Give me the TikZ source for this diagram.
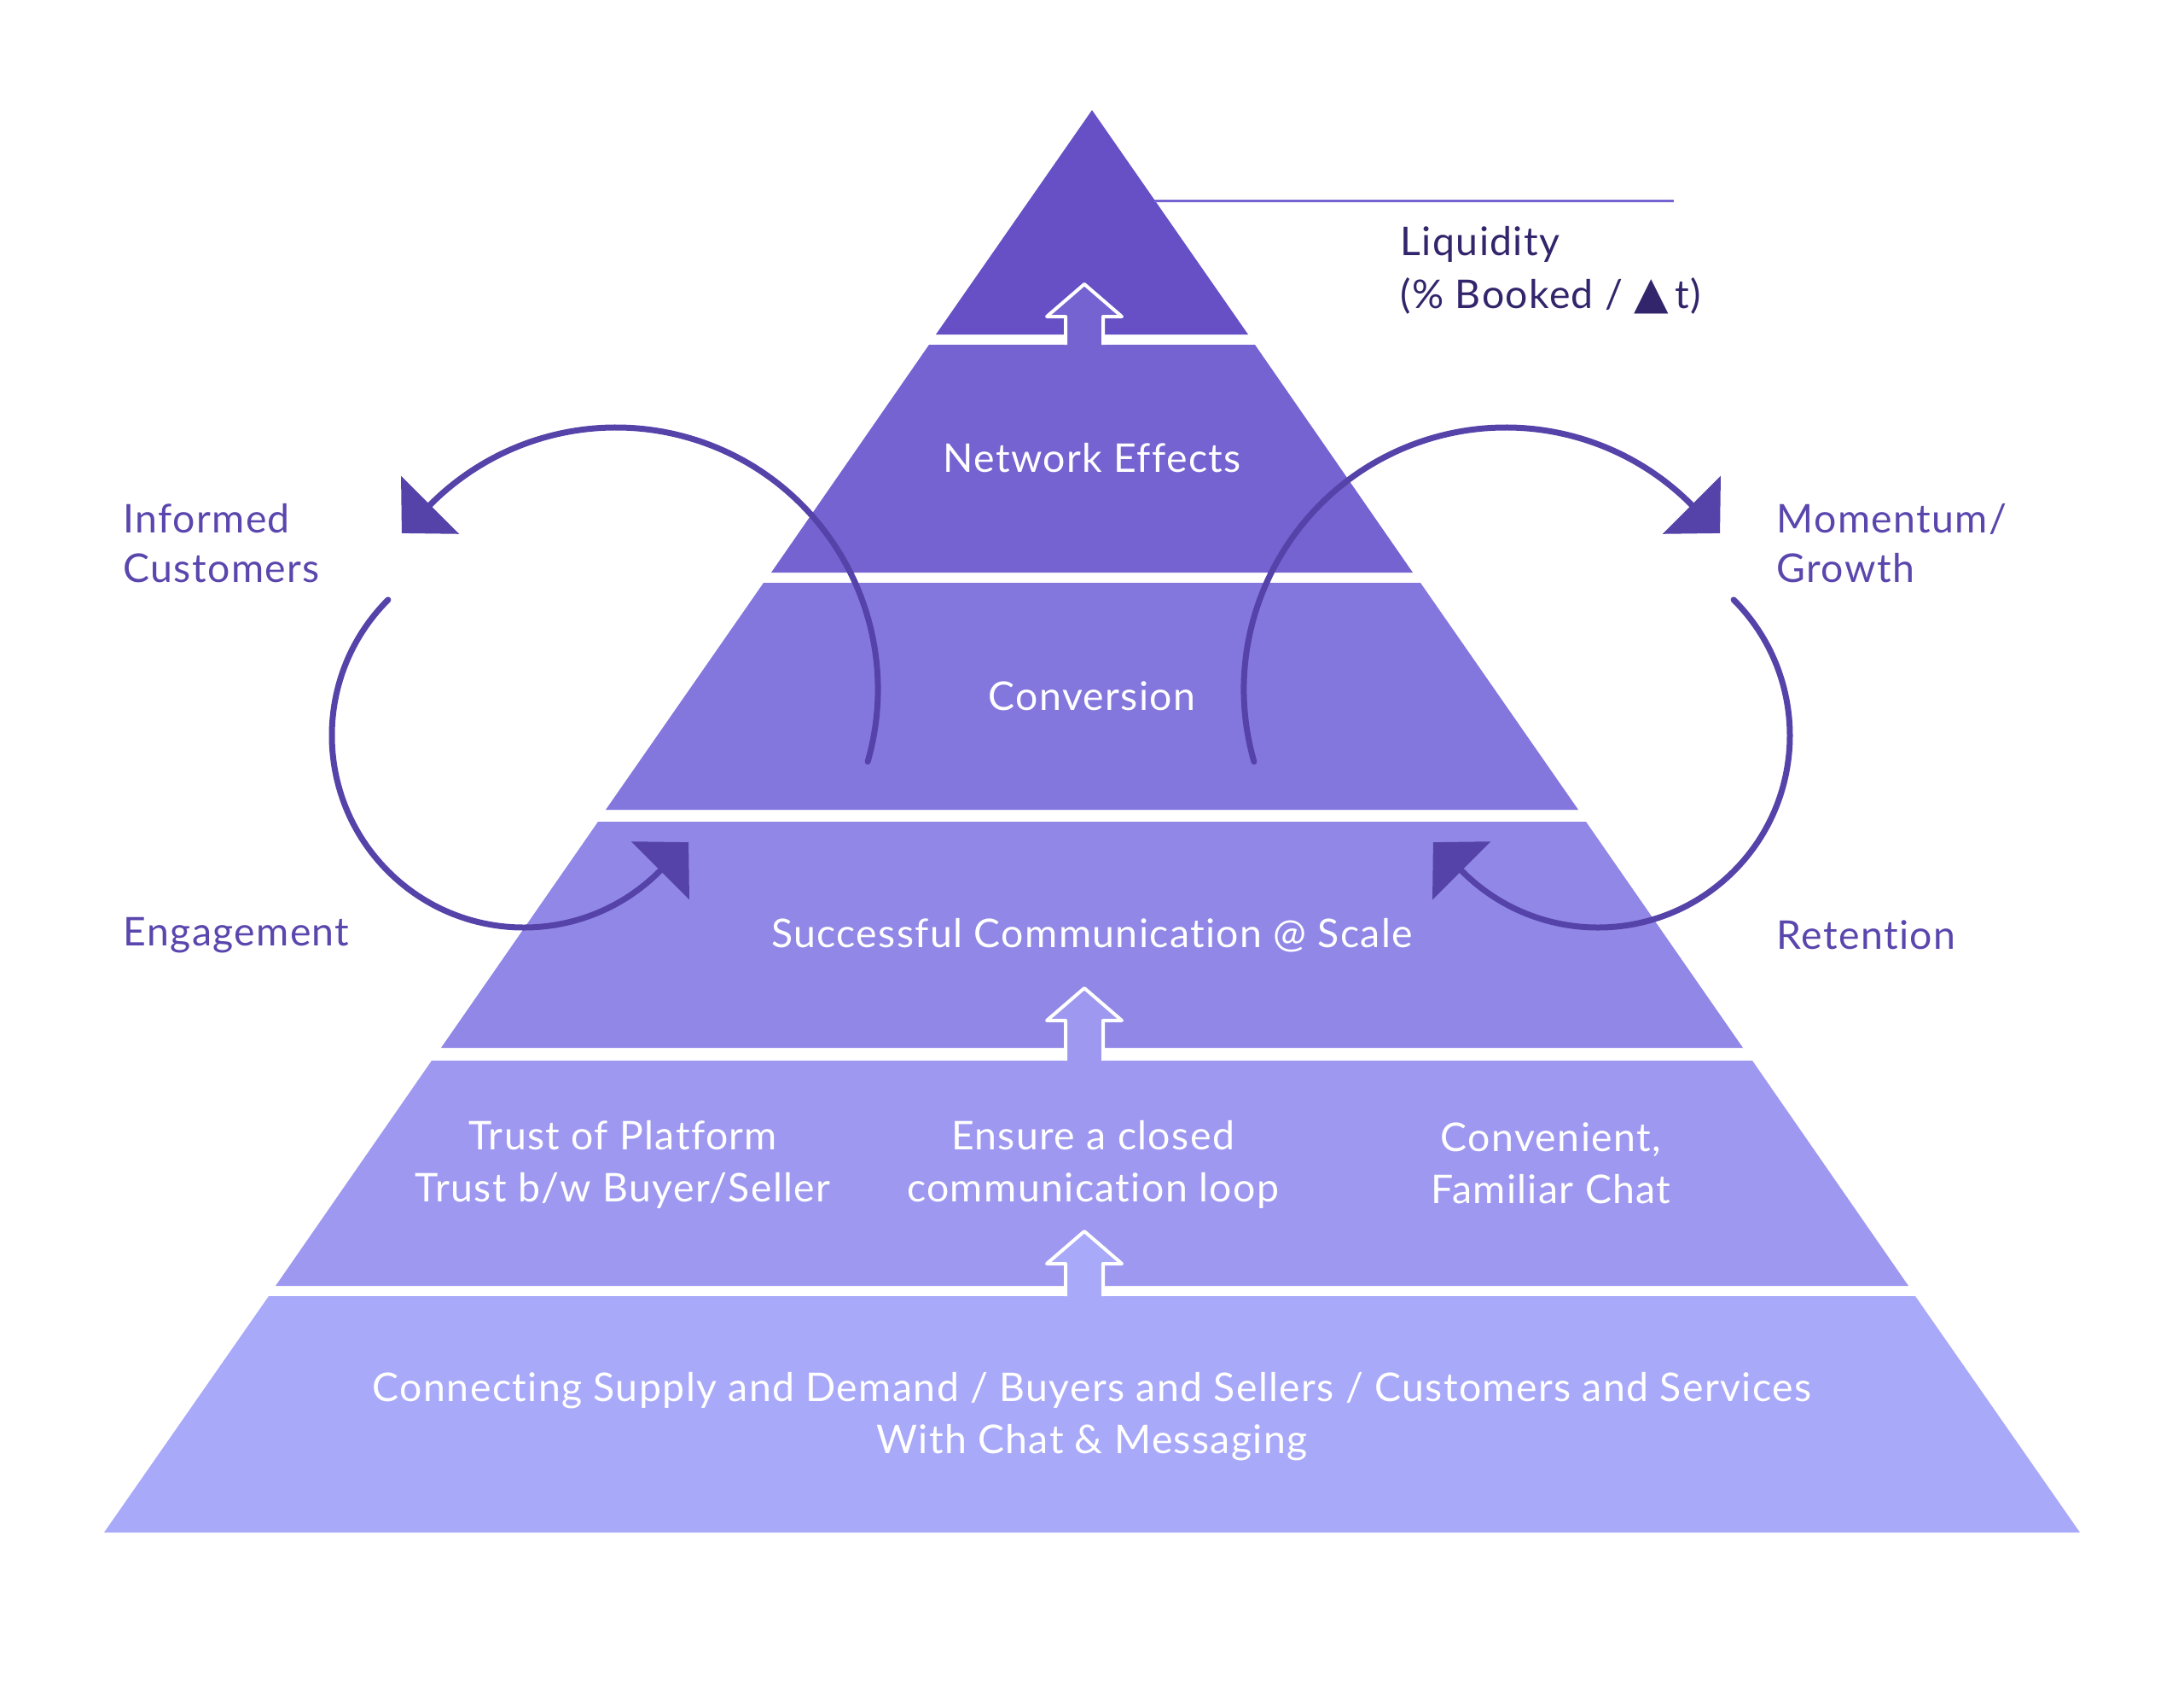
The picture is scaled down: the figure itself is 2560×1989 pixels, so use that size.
\documentclass[tikz,border=0pt]{standalone}
\usepackage{fontspec}
\setmainfont{Lato}[LetterSpace=3, Ligatures=NoCommon]
\newfontfamily\symfont{DejaVu Sans}
\usetikzlibrary{arrows.meta}

\definecolor{tierA}{HTML}{6750C6}
\definecolor{tierB}{HTML}{7563D1}
\definecolor{tierC}{HTML}{8377DD}
\definecolor{tierD}{HTML}{9087E6}
\definecolor{tierE}{HTML}{9E98F0}
\definecolor{tierF}{HTML}{A9A9FA}
\definecolor{loopcol}{HTML}{5643A9}
\definecolor{sidecol}{HTML}{5A46AD}
\definecolor{darkcol}{HTML}{33256B}

\begin{document}
\begin{tikzpicture}[
    x=0.1mm, y=-0.1mm,
    tiertext/.style={text=white, align=center, font=\fontsize{13.2}{17.5}\selectfont},
    sidetext/.style={text=sidecol, align=left, anchor=west, inner sep=0pt, font=\fontsize{13.2}{16.5}\selectfont},
    uparrow/.style={draw=white, line width=0.4mm, line join=round},
    loopline/.style={draw=loopcol, line width=0.7mm, line cap=round, -{Triangle[length=4.7mm, width=9.5mm]}},
    line/.style={draw=tierB, line width=0.3mm}
]
\useasboundingbox (0,0) rectangle (2560,1989);

% Pyramid tiers
\fill [tierA] (1280,129) -- (1463,392) -- (1097,392) -- cycle;
\fill [tierB] (1089,404) -- (1471,404) -- (1656,671) -- (904,671) -- cycle;
\fill [tierC] (895,683) -- (1665,683) -- (1850,949) -- (710,949) -- cycle;
\fill [tierD] (701,963) -- (1859,963) -- (2043,1228) -- (517,1228) -- cycle;
\fill [tierE] (506,1243) -- (2054,1243) -- (2237,1507) -- (323,1507) -- cycle;
\fill [tierF] (315,1519) -- (2245,1519) -- (2438,1796) -- (122,1796) -- cycle;

% Up arrows between tiers
\filldraw [uparrow, fill=tierB] (1249,404) -- (1249,371) -- (1227,371) -- (1271,333) -- (1315,371) -- (1293,371) -- (1293,404);
\filldraw [uparrow, fill=tierE] (1249,1243) -- (1249,1196) -- (1227,1196) -- (1271,1158) -- (1315,1196) -- (1293,1196) -- (1293,1243);
\filldraw [uparrow, fill=tierF] (1249,1519) -- (1249,1481) -- (1227,1481) -- (1271,1443) -- (1315,1481) -- (1293,1481) -- (1293,1519);

% Place the nodes
\node [tiertext] (net) at (1280,537) {Network Effects};
\node [tiertext] (conv) at (1280,816) {Conversion};
\node [tiertext] (succ) at (1280,1096) {Successful Communication @ Scale};
\node [tiertext] (trust) at (730,1365) {Trust of Platform\\Trust b/w Buyer/Seller};
\node [tiertext] (ensure) at (1281,1365) {Ensure a closed\\communication loop};
\node [tiertext] (chat) at (1818,1363) {Convenient,\\Familiar Chat};
\node [tiertext] (base) at (1280,1660) {Connecting Supply and Demand / Buyers and Sellers / Customers and Services\\With Chat \& Messaging};

\node [sidetext, text=darkcol, font=\fontsize{13.2}{17.5}\selectfont] (liq) at (1641,317) {Liquidity\\(\% Booked / {\symfont\fontsize{15}{17.5}\selectfont ▲}\,t)};
\node [sidetext] (inf) at (144,637) {Informed\\Customers};
\node [sidetext] (eng) at (144,1096) {Engagement};
\node [sidetext] (mom) at (2082,637) {Momentum/\\Growth};
\node [sidetext] (ret) at (2082,1096) {Retention};

% Draw the lines (arrows)
\coordinate (liqedge) at (1353,235);
\coordinate (liqend) at (1962,235);
\path [line] (liqedge) -- (liqend);

\coordinate (infstart) at (1017.1,892.6);
\coordinate (engstart) at (454.9,702.9);
\coordinate (momstart) at (1469.9,892.6);
\coordinate (retstart) at (2032.1,702.9);
\path [loopline] (infstart) arc [start angle=16, end angle=-135, radius=307] -- ++(-34,34);
\path [loopline] (engstart) arc [start angle=225, end angle=45, radius=225] -- ++(34,-34);
\path [loopline] (momstart) arc [start angle=164, end angle=315, radius=307] -- ++(34,34);
\path [loopline] (retstart) arc [start angle=-45, end angle=135, radius=225] -- ++(-34,-34);

\end{tikzpicture}
\end{document}
